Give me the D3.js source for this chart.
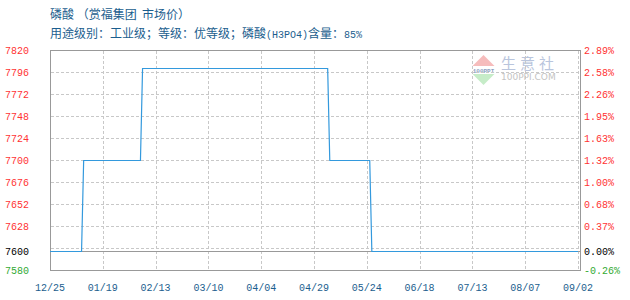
<!DOCTYPE html>
<html>
<head>
<meta charset="utf-8">
<script src="https://cdn.jsdelivr.net/npm/d3@7/dist/d3.min.js"></script>
<style>
  html, body { margin: 0; padding: 0; background: #fff; }
  svg { display: block; }
</style>
</head>
<body>
<svg id="chart" width="630" height="300"></svg>
<script>
// Price series (daily quotes where the price changed)
const dates = ["2017-12-25", "2018-01-09", "2018-01-10", "2018-02-06", "2018-02-07",
               "2018-05-06", "2018-05-07", "2018-05-26", "2018-05-27", "2018-09-02"];
const prices = [7600, 7600, 7700, 7700, 7800, 7800, 7700, 7700, 7600, 7600];

// Axis labels
const xTickLabels = ["12/25", "01/19", "02/13", "03/10", "04/04", "04/29",
                     "05/24", "06/18", "07/13", "08/07", "09/02"];
const yTickValues = [7820, 7796, 7772, 7748, 7724, 7700, 7676, 7652, 7628, 7600, 7580];
const yTickLabels = ["7820", "7796", "7772", "7748", "7724", "7700", "7676", "7652", "7628", "7600", "7580"];
const pctLabels = ["2.89%", "2.58%", "2.26%", "1.95%", "1.63%", "1.32%", "1.00%", "0.68%", "0.37%", "0.00%", "-0.26%"];
const gridValues = [7604, 7628, 7652, 7676, 7700, 7724, 7748, 7772, 7796];
const basePrice = 7600;

const titleText = "磷酸 （赏福集团  市场价）";
const subtitleParts = [
  { t: "用途级别：工业级；等级：优等级；磷酸", latin: false },
  { t: "(H3PO4)", latin: true },
  { t: "含量：", latin: false },
  { t: "85%", latin: true }
];

const svg = d3.select("#chart");
const parse = d3.utcParse("%Y-%m-%d");
const series = dates.map((d, i) => ({ date: parse(d), v: prices[i] }));

const start = parse(dates[0]), end = parse(dates[dates.length - 1]);
const x = d3.scaleUtc().domain([start, end]).range([50, 578]);
const y = d3.scaleLinear().domain([7580, 7820]).range([269.8, 49.8]);
const crisp = v => Math.round(v) + 0.5;

const monoFont = "'Liberation Mono', 'DejaVu Sans Mono', monospace";
const cjkFont = "'Noto Sans CJK SC', sans-serif";
const blueText = "#1b5e8e";

// Titles
svg.append("text")
  .attr("x", 50).attr("y", 19)
  .attr("font-family", cjkFont).attr("font-size", 12)
  .attr("fill", blueText)
  .style("white-space", "pre")
  .text(titleText);

const sub = svg.append("text")
  .attr("x", 50).attr("y", 38)
  .attr("font-size", 12)
  .attr("fill", blueText);
subtitleParts.forEach(p => {
  sub.append("tspan")
    .attr("font-family", p.latin ? monoFont : cjkFont)
    .attr("font-size", p.latin ? 10 : 12)
    .text(p.t);
});

// Watermark logo
const wm = svg.append("g");
wm.append("path").attr("d", "M483.5,55 L494.5,66 L472.5,66 Z").attr("fill", "#f6bcbc");
wm.append("path").attr("d", "M472.5,74 L494.5,74 L483.5,85 Z").attr("fill", "#c6ecc8");
wm.append("text").attr("x", 483.5).attr("y", 72.5).attr("text-anchor", "middle")
  .attr("font-family", monoFont).attr("font-size", 6).attr("font-weight", "bold")
  .attr("fill", "#8aa0c0").text("100PPI");
wm.append("text").attr("x", 501).attr("y", 69)
  .attr("font-family", cjkFont).attr("font-size", 15)
  .attr("letter-spacing", 4).attr("fill", "#b9c5dd").text("生意社");
wm.append("text").attr("x", 501).attr("y", 80)
  .attr("font-family", "'DejaVu Sans', sans-serif").attr("font-size", 9)
  .attr("fill", "#c4c4c4").text("100PPI.COM");

// Grid lines
const grid = svg.append("g")
  .attr("stroke", "#c8c8c8").attr("stroke-width", 1)
  .attr("stroke-dasharray", "3,2").attr("shape-rendering", "crispEdges");

grid.selectAll("line.h").data(gridValues).join("line")
  .attr("class", "h")
  .attr("x1", 50.5).attr("x2", 580)
  .attr("y1", d => crisp(y(d))).attr("y2", d => crisp(y(d)));

const tickDates = d3.range(xTickLabels.length).map(k =>
  new Date(+start + k * (end - start) / (xTickLabels.length - 1)));

grid.selectAll("line.v").data(tickDates.slice(1)).join("line")
  .attr("class", "v")
  .attr("y1", crisp(y(7820))).attr("y2", crisp(y(7580)))
  .attr("x1", d => crisp(x(d))).attr("x2", d => crisp(x(d)));

// Base price reference line
svg.append("line")
  .attr("x1", 50.5).attr("x2", 580.5)
  .attr("y1", crisp(y(basePrice))).attr("y2", crisp(y(basePrice)))
  .attr("stroke", "#999").attr("shape-rendering", "crispEdges");

// Frame
svg.append("rect")
  .attr("x", 50.5).attr("y", crisp(y(7820)))
  .attr("width", 530).attr("height", crisp(y(7580)) - crisp(y(7820)))
  .attr("fill", "none").attr("stroke", "#999").attr("shape-rendering", "crispEdges");

// Price line
const line = d3.line()
  .x(d => x(d.date))
  .y(d => crisp(y(d.v)));
svg.append("path")
  .datum(series)
  .attr("d", line)
  .attr("fill", "none")
  .attr("stroke", "#3399dd")
  .attr("stroke-width", 1.2)
  .attr("stroke-linejoin", "miter");

// Axis label colours: above base red, base black, below green
const labelColor = v => v > basePrice ? "#ff3333" : (v === basePrice ? "#000" : "#33aa33");

svg.append("g").selectAll("text").data(yTickValues).join("text")
  .attr("x", 5).attr("y", d => y(d) + 4)
  .attr("font-family", monoFont).attr("font-size", 10)
  .attr("fill", labelColor)
  .text((d, i) => yTickLabels[i]);

svg.append("g").selectAll("text").data(yTickValues).join("text")
  .attr("x", 584).attr("y", d => y(d) + 4)
  .attr("font-family", monoFont).attr("font-size", 10)
  .attr("fill", labelColor)
  .text((d, i) => pctLabels[i]);

svg.append("g").selectAll("text").data(tickDates).join("text")
  .attr("x", d => x(d)).attr("y", 291)
  .attr("text-anchor", "middle")
  .attr("font-family", monoFont).attr("font-size", 10)
  .attr("fill", blueText)
  .text((d, i) => xTickLabels[i]);
</script>
</body>
</html>
